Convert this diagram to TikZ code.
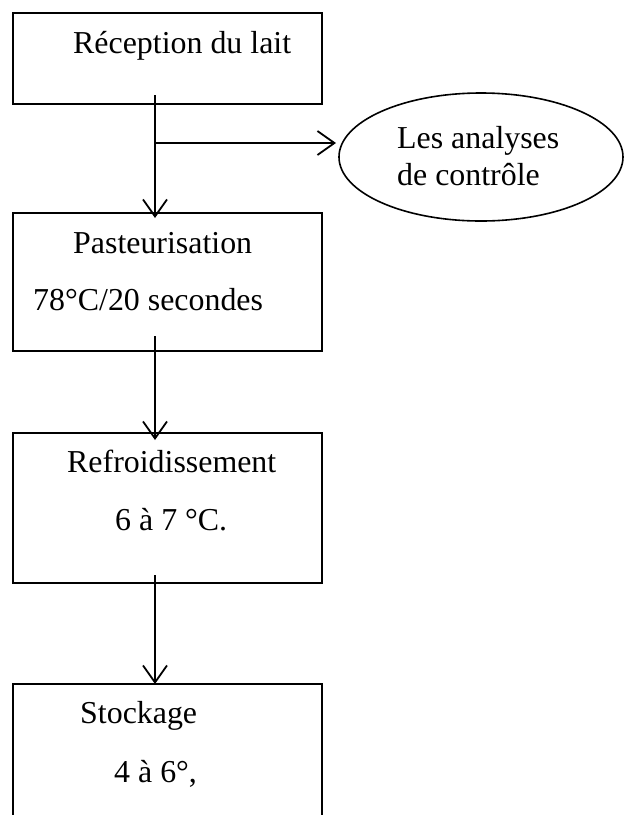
\documentclass[tikz,border=0pt]{standalone}
\usepackage{fontspec}
\setmainfont{Liberation Serif}
\usetikzlibrary{arrows.meta,shapes.geometric}
\tikzset{
  boxstyle/.style={draw, line width=1.8pt, rectangle, minimum width=309pt, inner sep=0pt},
  ellstyle/.style={draw, line width=1.6pt, ellipse, minimum width=284pt, minimum height=128pt, inner sep=0pt},
  txt/.style={anchor=base west, inner sep=0pt, font=\fontsize{31.9}{37}\selectfont},
  arr/.style={line width=1.8pt, -{Straight Barb[length=17pt,width=24pt,line width=1.8pt]}}
}
\begin{document}
\begin{tikzpicture}[x=1pt,y=-1pt]
\useasboundingbox (0,0) rectangle (624,815);
\clip (0,0) rectangle (624,815);
% boxes
\node[boxstyle, minimum height=91pt]  (b1) at (167.5,58.5) {};
\node[boxstyle, minimum height=138pt] (b2) at (167.5,282) {};
\node[boxstyle, minimum height=150pt] (b3) at (167.5,508) {};
\node[boxstyle, minimum height=146pt] (b4) at (167.5,757) {};
\node[ellstyle] (el) at (481,157) {};
% texts
\node[txt] (t1) at (73,53) {Réception du lait};
\node[txt] (t2) at (73,253) {Pasteurisation};
\node[txt] (t2b) at (33,310) {78°C/20 secondes};
\node[txt] (t3) at (67,472) {Refroidissement};
\node[txt] (t3b) at (115,530) {6 à 7 °C.};
\node[txt] (t4) at (80,723) {Stockage};
\node[txt] (t4b) at (114,782) {4 à 6°,};
\node[txt] (te1) at (397,148) {Les analyses};
\node[txt] (te2) at (397,185) {de contrôle};
% connector points
\coordinate (s1) at (155,95);
\coordinate (e1) at (155,218);
\coordinate (br) at (155,143);
\coordinate (eb) at (336,143);
\coordinate (s2) at (155,336);
\coordinate (e2) at (155,440);
\coordinate (s3) at (155,575);
\coordinate (e3) at (155,684);
\draw[arr] (s1) -- (e1);
\draw[arr] (br) -- (eb);
\draw[arr] (s2) -- (e2);
\draw[arr] (s3) -- (e3);
\end{tikzpicture}
\end{document}
